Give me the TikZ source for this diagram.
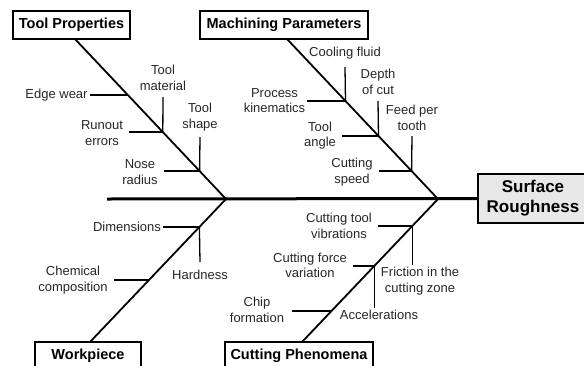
\documentclass[tikz,border=0pt]{standalone}
\usepackage{fontspec}
\setmainfont{Liberation Sans}
\begin{document}
\begin{tikzpicture}[x=1pt,y=-1pt,
  cat/.style={draw, line width=1.6pt, fill=white, font=\fontsize{14.5}{17}\selectfont\bfseries, inner sep=0pt, align=center},
  lbl/.style={font=\fontsize{13}{15.5}\selectfont, text=black!85, align=center, inner sep=2pt},
  bone/.style={line width=1.8pt},
  twig/.style={line width=1.3pt},
  spine/.style={line width=3pt}]
\useasboundingbox (0,0) rectangle (584,365);
\clip (0,0) rectangle (584,365);
% category boxes
\node[cat, minimum width=117pt, minimum height=28pt] (TP) at (71.5,25) {Tool Properties};
\node[cat, minimum width=168pt, minimum height=28pt] (MP) at (284,25) {Machining Parameters};
\node[cat, minimum width=106pt, minimum height=28pt] (WP) at (88,356) {Workpiece};
\node[cat, minimum width=148pt, minimum height=28pt] (CP) at (299,356) {Cutting Phenomena};
\node[cat, fill=black!9, line width=2pt, minimum width=110pt, minimum height=49pt,
      font=\fontsize{17}{20}\selectfont\bfseries] (SR) at (533,198.5) {Surface\\Roughness};
% heads of the bones
\coordinate (h1) at (226,199);
\coordinate (h2) at (438,199);
\coordinate (s0) at (107,199);
\coordinate (tp0) at (75,39);
\coordinate (mp0) at (287,39);
\coordinate (wp0) at (90,342);
\coordinate (cp0) at (302,342);
% junctions
\coordinate (jew) at (127.8,95);
\coordinate (jtm) at (162.8,132);
\coordinate (jts) at (199.6,171);
\coordinate (jcf) at (345.5,101);
\coordinate (jdc) at (378.5,136);
\coordinate (jfp) at (411.6,171);
\coordinate (jdim) at (199.4,227);
\coordinate (jcc) at (148.6,280);
\coordinate (jctv) at (412.3,226);
\coordinate (jcfv) at (374.3,266);
\coordinate (jchf) at (331.5,311);
% spine and bones
\draw[spine] (s0) -- (SR.west);
\draw[bone] (tp0) -- (h1);
\draw[bone] (mp0) -- (h2);
\draw[bone] (wp0) -- (h1);
\draw[bone] (cp0) -- (h2);
% labels
\node[lbl] (ew) at (56.5,95) {Edge wear};
\node[lbl] (tm) at (163,78) {Tool\\material};
\node[lbl] (re) at (102,133) {Runout\\errors};
\node[lbl] (ts) at (200,117) {Tool\\shape};
\node[lbl] (nr) at (140,172) {Nose\\radius};
\node[lbl] (cf) at (345,53) {Cooling fluid};
\node[lbl] (pk) at (274.5,100.5) {Process\\kinematics};
\node[lbl] (dc) at (378,82) {Depth\\of cut};
\node[lbl] (ta) at (320,135.5) {Tool\\angle};
\node[lbl] (fp) at (412,118) {Feed per\\tooth};
\node[lbl] (cs) at (352,172) {Cutting\\speed};
\node[lbl] (dim) at (127,227) {Dimensions};
\node[lbl] (hd) at (200,275) {Hardness};
\node[lbl] (cc) at (73,280) {Chemical\\composition};
\node[lbl] (ctv) at (339,226) {Cutting tool\\vibrations};
\node[lbl] (fr) at (420,281) {Friction in the\\cutting zone};
\node[lbl] (cfv) at (310,265.5) {Cutting force\\variation};
\node[lbl] (acc) at (379,315) {Accelerations};
\node[lbl] (chf) at (257,310) {Chip\\formation};
% twigs
\draw[twig] (ew.east) -- (jew);
\draw[twig] (tm.south |- 0,97) -- (jtm);
\draw[twig] (re.east |- jtm) ++(4,0) -- (jtm);
\draw[twig] (ts.south |- 0,137) -- (jts);
\draw[twig] (nr.east |- jts) ++(4,0) -- (jts);
\draw[twig] (cf.south |- 0,67) -- (jcf);
\draw[twig] (pk.east |- jcf) -- (jcf);
\draw[twig] (dc.south |- 0,101) -- (jdc);
\draw[twig] (ta.east |- jdc) ++(4,0) -- (jdc);
\draw[twig] (fp.south |- 0,136) -- (jfp);
\draw[twig] (cs.east |- jfp) ++(4,0) -- (jfp);
\draw[twig] (dim.east) -- (jdim);
\draw[twig] (jdim) -- (hd.north |- 0,262);
\draw[twig] (cc.east |- jcc) ++(4,0) -- (jcc);
\draw[twig] (ctv.east |- jctv) ++(4,0) -- (jctv);
\draw[twig] (jctv) -- (fr.north -| jctv);
\draw[twig] (cfv.east |- jcfv) ++(4,0) -- (jcfv);
\draw[twig] (jcfv) -- (acc.north -| jcfv);
\draw[twig] (chf.east |- jchf) ++(6,0) -- (jchf);
\end{tikzpicture}
\end{document}
